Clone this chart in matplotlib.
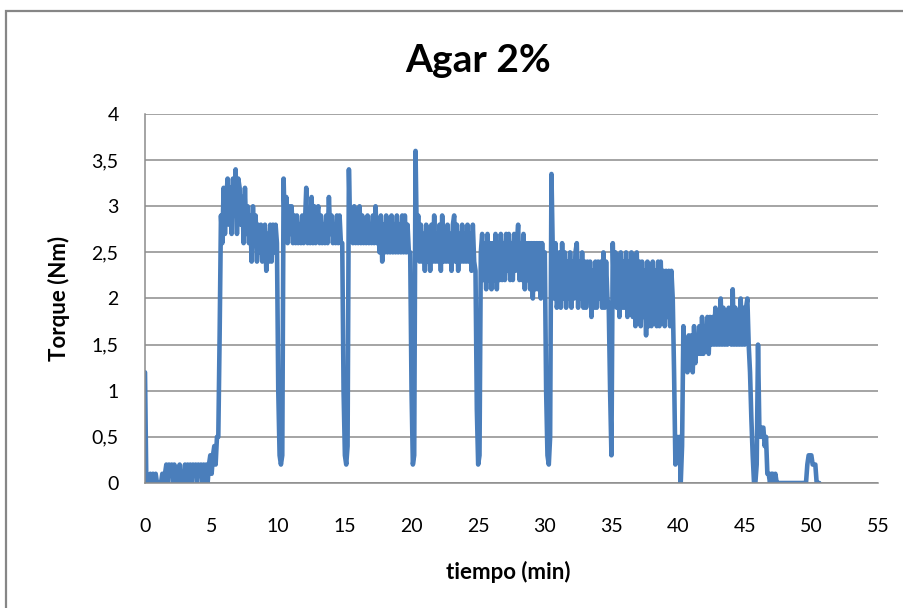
import numpy as np
import matplotlib
matplotlib.use("Agg")
import matplotlib.pyplot as plt
from matplotlib.patches import Rectangle

# Torque registrado cada 0,1 min (Nm), una fila por minuto
torque = [
    1.2, 0, 0, 0, 0.1, 0, 0.1, 0, 0.1, 0,                      # 0
    0, 0, 0, 0.1, 0, 0.1, 0.2, 0, 0.2, 0.1,                    # 1
    0.2, 0, 0.2, 0.1, 0, 0.1, 0.2, 0, 0.1, 0,                  # 2
    0.2, 0, 0.2, 0.1, 0.2, 0, 0.2, 0.1, 0.2, 0,                # 3
    0.2, 0.1, 0.2, 0, 0.2, 0.1, 0.2, 0, 0.2, 0.3,              # 4
    0.1, 0.3, 0.4, 0.2, 0.5, 0.5, 1.6, 2.9, 2.6, 3.2,          # 5
    2.7, 3.1, 3.3, 2.8, 3.2, 2.7, 3.3, 2.9, 3.4, 2.7,          # 6
    3.3, 3.2, 2.8, 3.1, 2.6, 3.2, 2.7, 3.0, 2.6, 2.9,          # 7
    2.4, 3.0, 2.6, 2.9, 2.4, 2.8, 2.5, 2.8, 2.4, 2.7,          # 8
    2.8, 2.3, 2.7, 2.4, 2.8, 2.4, 2.8, 2.5, 2.8, 2.6,          # 9
    1.0, 0.3, 0.2, 0.3, 3.3, 2.7, 3.1, 2.6, 3.0, 2.7,          # 10
    3.0, 2.6, 2.9, 2.6, 2.9, 2.6, 2.8, 2.6, 2.9, 2.6,          # 11
    2.8, 3.2, 2.6, 2.9, 2.6, 3.1, 2.6, 3.0, 2.6, 2.9,          # 12
    3.0, 2.6, 2.9, 2.6, 2.8, 2.6, 2.9, 2.6, 3.1, 2.7,          # 13
    2.9, 2.6, 2.8, 2.6, 2.9, 2.6, 2.9, 2.6, 2.6, 1.0,          # 14
    0.3, 0.2, 0.4, 3.4, 2.7, 2.9, 2.6, 3.0, 2.6, 2.9,          # 15
    2.6, 3.0, 2.6, 2.9, 2.6, 2.8, 2.6, 2.9, 2.6, 2.8,          # 16
    2.6, 2.9, 2.6, 3.0, 2.6, 2.8, 2.5, 2.9, 2.4, 2.8,          # 17
    2.5, 2.9, 2.5, 2.8, 2.5, 2.9, 2.5, 2.8, 2.5, 2.9,          # 18
    2.5, 2.8, 2.5, 2.9, 2.5, 2.9, 2.5, 2.8, 2.5, 2.5,          # 19
    1.0, 0.2, 0.3, 3.6, 2.6, 2.9, 2.4, 2.8, 2.4, 2.7,          # 20
    2.3, 2.8, 2.4, 2.7, 2.3, 2.8, 2.4, 2.9, 2.4, 2.7,          # 21
    2.4, 2.8, 2.3, 2.9, 2.4, 2.7, 2.4, 2.8, 2.4, 2.7,          # 22
    2.3, 2.8, 2.9, 2.4, 2.8, 2.3, 2.7, 2.4, 2.8, 2.4,          # 23
    2.7, 2.4, 2.8, 2.4, 2.7, 2.3, 2.8, 2.4, 2.3, 0.8,          # 24
    0.2, 0.3, 2.5, 2.7, 2.2, 2.6, 2.1, 2.7, 2.2, 2.6,          # 25
    2.1, 2.6, 2.2, 2.7, 2.1, 2.6, 2.2, 2.7, 2.2, 2.6,          # 26
    2.2, 2.7, 2.3, 2.7, 2.2, 2.6, 2.2, 2.7, 2.3, 2.6,          # 27
    2.8, 2.2, 2.6, 2.2, 2.7, 2.1, 2.6, 2.2, 2.6, 2.1,          # 28
    2.6, 2.0, 2.6, 2.1, 2.6, 2.1, 2.6, 2.0, 2.6, 2.1,          # 29
    2.5, 1.0, 0.3, 0.2, 0.5, 3.35, 2.5, 2.0, 2.6, 1.9,         # 30
    2.0, 2.5, 1.9, 2.6, 2.0, 2.5, 1.9, 2.4, 2.0, 2.5,          # 31
    1.9, 2.4, 2.0, 2.5, 2.6, 1.9, 2.4, 2.0, 2.5, 1.9,          # 32
    2.4, 1.9, 2.4, 2.0, 2.4, 1.8, 2.3, 1.9, 2.4, 1.9,          # 33
    2.4, 2.0, 2.4, 1.9, 2.5, 1.9, 2.4, 2.0, 1.9, 1.0,          # 34
    0.3, 2.6, 2.0, 2.5, 1.9, 2.4, 1.8, 2.5, 1.9, 2.4,          # 35
    1.9, 2.5, 1.8, 2.4, 1.9, 2.5, 1.8, 2.4, 1.7, 2.5,          # 36
    1.8, 2.4, 1.7, 2.4, 1.8, 2.3, 1.6, 2.4, 1.7, 2.3,          # 37
    1.7, 2.4, 1.8, 2.3, 1.7, 2.4, 1.7, 2.4, 1.8, 2.3,          # 38
    1.7, 2.3, 1.8, 2.3, 1.7, 2.3, 2.0, 1.2, 0.2, 0.5,          # 39
    0.3, 0.5, 0.0, 0.4, 1.7, 1.3, 1.5, 1.2, 1.6, 1.3,          # 40
    1.6, 1.2, 1.7, 1.3, 1.6, 1.4, 1.7, 1.4, 1.8, 1.4,          # 41
    1.7, 1.5, 1.8, 1.4, 1.8, 1.5, 1.8, 1.5, 1.9, 1.5,          # 42
    1.8, 1.5, 2.0, 1.5, 1.9, 1.5, 1.8, 1.5, 1.9, 1.6,          # 43
    1.5, 2.1, 1.5, 1.9, 1.5, 1.8, 1.5, 2.0, 1.5, 1.9,          # 44
    1.5, 1.9, 2.0, 1.5, 1.2, 0.7, 0.3, 0.0, 0.0, 0.2,          # 45
    1.5, 0.6, 0.5, 0.6, 0.6, 0.4, 0.5, 0.1, 0.1, 0.0,          # 46
    0.1, 0.1, 0.0, 0.1, 0.0, 0.0, 0.0, 0.0, 0.0, 0.0,          # 47
    0, 0, 0, 0, 0, 0, 0, 0, 0, 0,                              # 48
    0, 0, 0, 0, 0, 0, 0, 0.2, 0.3, 0.3,                        # 49
    0.3, 0.2, 0.2, 0.2, 0.0, 0.0, 0.0,                         # 50
]
tiempo = np.arange(len(torque)) * 0.1

x_ticks = [0, 5, 10, 15, 20, 25, 30, 35, 40, 45, 50, 55]
y_ticks = [0, 0.5, 1, 1.5, 2, 2.5, 3, 3.5, 4]
y_labels = ['0', '0,5', '1', '1,5', '2', '2,5', '3', '3,5', '4']

plt.rcParams['font.family'] = ['Lato', 'DejaVu Sans']
plt.rcParams['path.simplify'] = False

fig = plt.figure(figsize=(9.04, 6.08), dpi=100)
ax = fig.add_axes([0.1604, 0.2056, 0.8108, 0.6069])

ax.plot(tiempo, torque, color='#4A7EBB', lw=3.3, solid_joinstyle='round',
        solid_capstyle='round')

ax.set_xlim(0, 55)
ax.set_ylim(0, 4)
ax.set_xticks(x_ticks)
ax.set_xticklabels([str(v) for v in x_ticks])
ax.set_yticks(y_ticks)
ax.set_yticklabels(y_labels)
ax.tick_params(axis='both', length=0, labelsize=14, colors='#000000')
ax.tick_params(axis='x', pad=25)
ax.tick_params(axis='y', pad=19)

ax.grid(axis='y', color='#8C8C8C', lw=1.1)
ax.set_axisbelow(True)
for lado in ['top', 'right']:
    ax.spines[lado].set_visible(False)
for lado in ['left', 'bottom']:
    ax.spines[lado].set_color('#8C8C8C')
    ax.spines[lado].set_linewidth(1.1)

fig.text(478 / 904, 1 - 60 / 608, 'Agar 2%', ha='center', va='center',
         fontsize=28, fontweight='bold')
fig.text(508 / 904, 1 - 572 / 608, 'tiempo (min)', ha='center', va='center',
         fontsize=16, fontweight='bold')
fig.text(59 / 904, 1 - 298 / 608, 'Torque (Nm)', ha='center', va='center',
         fontsize=16, fontweight='bold', rotation=90)

# marco del area del grafico
fig.patches.append(Rectangle((6 / 904, -0.1), 1.2, 1 - 11 / 608 + 0.1,
                             transform=fig.transFigure, fill=False,
                             edgecolor='#868686', lw=1.6))

fig.savefig('out.png', dpi=100)
